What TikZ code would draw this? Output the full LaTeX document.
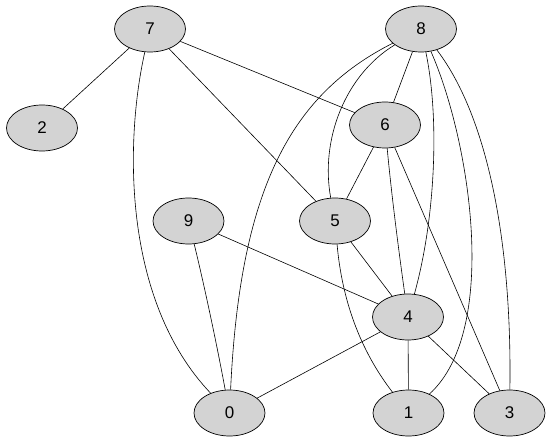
\documentclass[tikz,border=0pt]{standalone}
\usepackage{fontspec}
\setmainfont{Liberation Sans}
\usetikzlibrary{shapes.geometric}
\begin{document}
\begin{tikzpicture}[x=1bp,y=-1bp,
  vtx/.style={ellipse,draw=black,fill={rgb,255:red,211;green,211;blue,211},line width=0.7bp,
    minimum width=71bp,minimum height=46bp,inner sep=0pt,font=\fontsize{17}{20}\selectfont},
  edge/.style={draw=black,line width=0.6bp}]
\useasboundingbox (0,0) rectangle (551,443);
\node[vtx] (n7) at (150,29) {7};
\node[vtx] (n8) at (421,29) {8};
\node[vtx] (n2) at (42,128) {2};
\node[vtx] (n6) at (385,125) {6};
\node[vtx] (n9) at (188.5,221) {9};
\node[vtx] (n5) at (335,221) {5};
\node[vtx] (n4) at (408,317) {4};
\node[vtx] (n0) at (229.5,413) {0};
\node[vtx] (n1) at (408.5,413) {1};
\node[vtx] (n3) at (509.5,413) {3};
\path[edge] (n7) -- (n2);
\path[edge] (n7) -- (n6);
\path[edge] (n7) -- (n5);
\path[edge] (n7) .. controls (125,140) and (122,300) .. (n0);
\path[edge] (n8) .. controls (290,95) and (240,190) .. (n0);
\path[edge] (n8) .. controls (345,75) and (320,140) .. (n5);
\path[edge] (n8) -- (n6);
\path[edge] (n8) .. controls (440,120) and (435,220) .. (n4);
\path[edge] (n8) .. controls (470,140) and (500,330) .. (n1);
\path[edge] (n8) .. controls (490,120) and (512,250) .. (n3);
\path[edge] (n6) -- (n5);
\path[edge] (n6) .. controls (392,200) and (400,260) .. (n4);
\path[edge] (n6) -- (n3);
\path[edge] (n9) -- (n4);
\path[edge] (n9) .. controls (203,280) and (216,340) .. (n0);
\path[edge] (n5) -- (n4);
\path[edge] (n5) .. controls (342,300) and (360,350) .. (n1);
\path[edge] (n4) -- (n0);
\path[edge] (n4) -- (n1);
\path[edge] (n4) -- (n3);
\end{tikzpicture}
\end{document}
